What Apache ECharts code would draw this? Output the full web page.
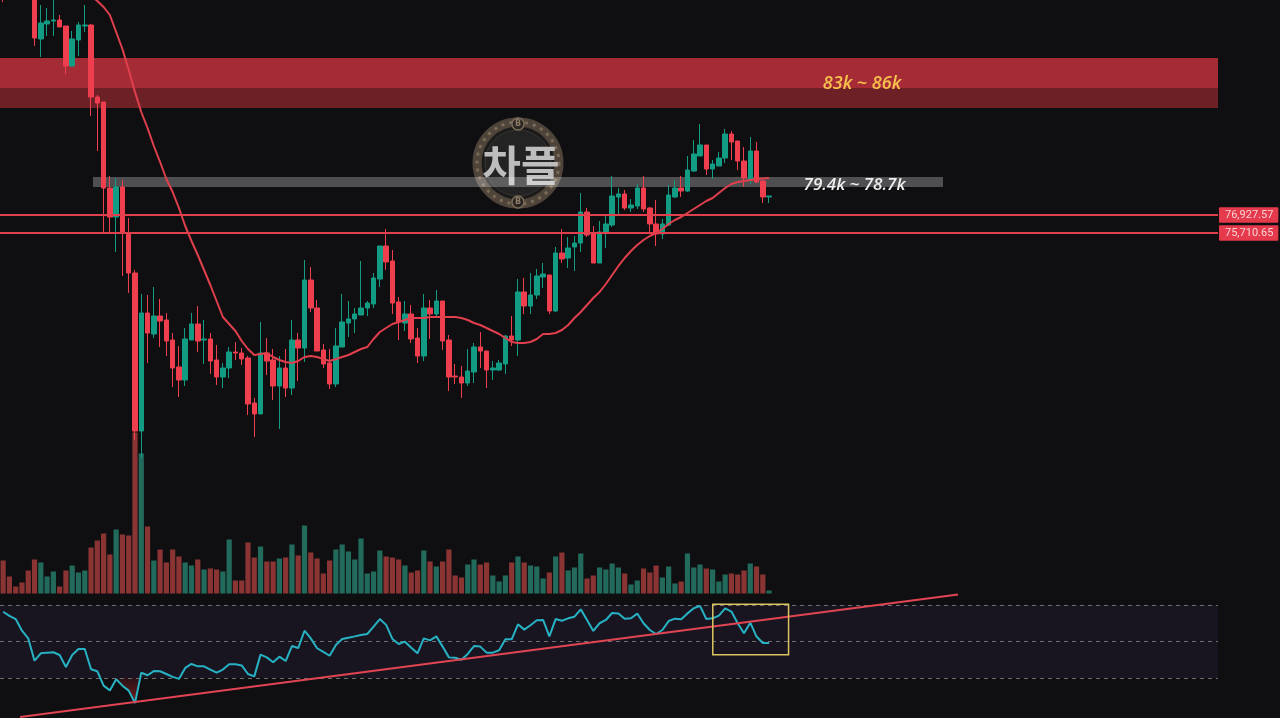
<!DOCTYPE html>
<html>
<head>
<meta charset="utf-8">
<style>html,body{margin:0;padding:0;background:#0f0f11;}#chart{width:1280px;height:718px;}</style>
<script src="https://cdn.jsdelivr.net/npm/echarts@6/dist/echarts.min.js"></script>
</head>
<body>
<div id="chart"></div>
<script>
const barCount = 194;
const categories = Array.from({length: barCount}, (_, i) => String(i + 1));

const candleOpen = [93490,94000,94300,94600,94500,
92138,88826,89840,90042,90110,89704,87000,88758,89704,89772,
84905,84567,78753,76793,78820,75711,73007,62326,70303,68884,
70100,69830,68478,66653,65774,68478,69560,68478,68546,67126,
65977,66585,67667,67599,67261,64219,63476,67599,67126,65368,
66585,65233,68478,67937,72534,70641,67802,66923,65504,68005,
69627,69898,70168,70641,70912,72602,74832,73818,71047,69627,
70236,68613,67396,70641,70236,71114,68478,66044,65977,65571,
66315,68005,67734,66450,66450,66856,68748,68478,71723,70776,
71520,72737,72872,70438,74359,74021,74765,75035,77131,75711,
73683,75711,76252,78145,78348,77401,77536,78753,77401,76320,
75644,76252,78145,78753,78550,79902,80916,81660,80038,80241,
80781,82404,81931,80578,79294,81254,79226,78145];
const candleClose = [92003,93400,93900,94200,92300,
88893,89907,90042,90110,89637,87000,88826,89772,89772,84905,
84499,78753,76793,78820,75711,73007,62326,70303,68951,70100,
69762,68410,66585,65774,68546,69560,68410,68546,67058,65977,
66585,67667,67599,67194,64152,63476,67599,67058,65368,66585,
65233,68478,67937,72534,70641,67734,66856,65504,68072,69695,
69898,70236,70641,70979,72669,74832,73751,70979,69695,70236,
68546,67396,70641,70236,71114,68410,65977,65977,65571,66382,
68005,67734,66450,66585,66923,68748,68478,71723,70776,71520,
72804,72940,70438,74359,73954,74697,75035,77131,75576,73683,
75779,76320,78212,78348,77401,77604,78753,77334,76320,75644,
76320,78280,78753,78550,79970,81052,81660,80038,80376,80781,
82404,81863,80578,79429,81254,79159,78145,78212];
const candleLow = [91327,93200,93700,94000,92100,
88352,87609,89028,89028,89637,86460,86933,87676,89299,83620,
81254,75711,75711,74427,72804,71655,61718,60501,66923,68613,
68005,67396,65301,64625,65368,68478,67667,66856,66180,65436,
65233,65909,67126,66788,63408,61921,63476,66112,64422,62462,
64625,64760,65706,66991,70371,67734,66585,65166,65301,68005,
68681,68951,70168,70100,70641,72061,73210,70236,68478,69086,
68275,66923,67058,68546,70100,67802,65030,65504,64557,65368,
65571,66585,65233,65774,66382,66180,68072,67396,70236,70236,
71250,71993,70236,70371,73683,73345,73142,74427,75441,73683,
73683,74697,76117,76996,77266,77131,77334,77131,75711,74832,
75306,76184,78077,78145,78483,79835,80916,79632,79362,80241,
80443,80646,79970,78820,79024,79091,77739,77739];
const candleHigh = [93828,94200,94500,94700,94900,
92814,91124,90921,91462,90448,89704,89366,89975,91124,89840,
85040,84567,79564,79429,79294,76725,73210,71588,71520,72061,
71250,70303,68951,68072,69289,70303,70776,69830,68951,68140,
66923,68005,68343,67937,67396,64557,69695,68613,67870,67396,
67870,69830,68951,73886,73413,71182,68208,67870,69289,71588,
71114,70641,73818,71114,73007,74832,75982,74562,71385,71114,
70844,69289,71588,71182,71858,71114,68816,66856,66720,67870,
68275,69019,67734,67058,67126,68816,70100,72602,72669,73007,
73278,73683,72872,74765,75982,75441,75508,78415,77401,76184,
76522,76860,79564,78753,78618,78010,79024,79564,77469,77942,
76658,78956,79294,79564,80916,81998,83080,81660,80646,81187,
82742,82607,81931,81525,82201,81863,79294,78212];

const volume = [33,17,7,11,23,34,31,17,22,7,23,28,21,23,46,53,60,39,64,59,58,161,140,67,33,
44,31,44,37,31,28,34,24,25,24,22,54,13,13,51,36,47,32,32,35,36,49,38,68,41,35,20,33,44,49,
42,34,55,20,22,43,37,36,34,28,21,23,43,32,27,32,44,18,16,29,34,29,31,18,12,18,31,37,31,28,
27,15,21,37,41,23,26,40,15,18,26,24,30,26,20,9,13,25,21,28,16,27,10,12,40,26,29,25,24,12,
19,20,19,23,30,27,19,3];

const movingAverage = [null,null,null,null,null,null,null,null,null,null,null,null,null,null,91732,
91394,90989,90448,89299,88150,86730,85243,83891,82809,81593,80511,79362,78483,77401,76184,
75170,74224,73210,72196,71114,70033,69560,69086,68410,67870,67464,67531,67599,67329,67126,
66991,66923,67058,67329,67396,67329,67194,67058,67194,67329,67464,67667,67870,68005,68546,
69019,69289,69560,69695,69830,69965,69965,69965,70033,70033,70033,70033,70033,69965,69830,
69627,69492,69289,69086,68884,68613,68343,68275,68275,68343,68546,68884,68884,68951,69154,
69492,69965,70371,70844,71317,71723,72264,72872,73481,74021,74494,74900,75238,75508,75711,
75982,76320,76590,76793,77063,77334,77604,77874,78077,78415,78753,79024,79159,79226,79294,
79362,79395,79429];

const rsi = [66.3,64.0,62.3,55.9,51.7,39.5,43.5,43.9,44.1,42.6,36.0,42.6,45.9,45.9,34.8,33.7,
25.8,23.2,29.3,25.8,23.1,16.3,32.9,31.5,33.8,33.7,32.2,30.6,29.5,35.5,37.7,36.4,36.4,34.6,
32.9,34.6,37.5,37.5,36.9,32.2,30.9,42.8,41.3,38.6,41.7,39.3,47.5,46.4,55.9,51.7,46.3,44.3,
42.2,48.1,51.4,52.1,52.8,53.6,54.1,58.1,62.3,59.1,51.4,48.6,49.9,46.6,43.5,51.7,50.6,52.8,
47.2,41.3,41.1,40.0,43.2,47.5,47.2,43.9,43.9,45.2,51.2,51.2,59.4,56.5,58.9,61.6,61.8,52.8,
62.3,61.4,62.7,63.6,67.6,61.8,55.8,60.0,61.8,65.6,65.4,62.5,62.7,65.3,60.0,56.3,54.1,56.3,
61.2,62.5,62.2,65.4,68.2,69.5,62.3,62.7,64.2,68.2,66.4,60.0,54.5,60.3,52.7,49.2,49.2];

const supportLevels = [76927.57, 75710.65];
const supportLabels = ['76,927.57', '75,710.65'];
const resistanceUpper = [87541, 85513];
const resistanceLower = [85513, 84161];
const midZone = [79497, 78821];
const zoneLabels = ['83k ~ 86k', '79.4k ~ 78.7k'];
const rsiLevels = [70, 50, 30];
const rsiTrend = [[2.7, 8.63], [152.1, 75.75]];

const C = {
  bg: '#0f0f11', up: '#139c84', down: '#ef3e4e', volUp: '#226b5c', volDown: '#8a3434',
  ma: '#e03f4d', rsi: '#27b2c4', trend: '#e14553', box: '#dcc561'
};

const candles = candleOpen.map((o, i) => [o, candleClose[i], candleLow[i], candleHigh[i]]);
const volumeBars = volume.map((v, i) => ({
  value: v,
  itemStyle: {color: candleClose[i] >= candleOpen[i] ? C.volUp : C.volDown}
}));
const rectItem = (api, x0, x1, y0, y1, style) => {
  const a = api.coord([x0, y0]), b = api.coord([x1, y1]);
  return {type: 'rect', shape: {x: a[0], y: a[1], width: b[0] - a[0], height: b[1] - a[1]}, style};
};

const option = {
  backgroundColor: C.bg,
  animation: false,
  grid: [
    {left: 0, top: 0, width: 1218, height: 595},
    {left: 0, top: 395, width: 1218, height: 198.5},
    {left: 0, top: 590, width: 1218, height: 128}
  ],
  xAxis: [
    {type: 'category', gridIndex: 0, data: categories, show: false},
    {type: 'value', gridIndex: 0, min: -0.5, max: barCount - 0.5, show: false},
    {type: 'category', gridIndex: 1, data: categories, show: false},
    {type: 'category', gridIndex: 2, data: categories, show: false},
    {type: 'value', gridIndex: 2, min: -0.5, max: barCount - 0.5, show: false}
  ],
  yAxis: [
    {type: 'value', gridIndex: 0, min: 51240, max: 91462, show: false, splitLine: {show: false}},
    {type: 'value', gridIndex: 1, min: 0, max: 198.5, show: false, splitLine: {show: false}},
    {type: 'value', gridIndex: 2, min: 8.08, max: 78.22, show: false, splitLine: {show: false}}
  ],
  graphic: [{
    type: 'group', z: 1, silent: true,
    children: [
      {type: 'circle', shape: {cx: 518, cy: 163, r: 41}, style: {fill: '#1c1b1b', stroke: '#4e443a', lineWidth: 9}},
      {type: 'circle', shape: {cx: 518, cy: 163, r: 41}, style: {fill: 'none', stroke: '#7a6b58', lineWidth: 3, lineDash: [3, 5]}},
      {type: 'circle', shape: {cx: 518, cy: 163, r: 33}, style: {fill: '#232323', stroke: '#38342f', lineWidth: 1}},
      {type: 'circle', shape: {cx: 518, cy: 124, r: 6}, style: {fill: '#2a2622', stroke: '#7b6c5a', lineWidth: 1.5}},
      {type: 'circle', shape: {cx: 518, cy: 202, r: 6}, style: {fill: '#2a2622', stroke: '#7b6c5a', lineWidth: 1.5}},
      {type: 'text', style: {x: 518, y: 124, text: 'B', fill: '#8a7a66', font: 'bold 8px "DejaVu Sans"', align: 'center', verticalAlign: 'middle'}},
      {type: 'text', style: {x: 518, y: 202, text: 'B', fill: '#8a7a66', font: 'bold 8px "DejaVu Sans"', align: 'center', verticalAlign: 'middle'}},
      {type: 'text', style: {x: 521, y: 165, text: '차플', fill: '#bdbdbd', font: 'bold 42px "Noto Sans CJK KR"', align: 'center', verticalAlign: 'middle'}}
    ]
  }],
  series: [
    {
      type: 'custom', name: 'Zones', xAxisIndex: 1, yAxisIndex: 0, z: 2, silent: true, clip: true,
      encode: {x: [0, 1], y: [2, 3]},
      data: [
        [-0.5, barCount - 0.5, resistanceUpper[0], resistanceUpper[1], '#a52b36'],
        [-0.5, barCount - 0.5, resistanceLower[0], resistanceLower[1], '#6e2027'],
        [14.31, 149.7, midZone[0], midZone[1], 'rgba(255,255,255,0.27)']
      ],
      renderItem: (p, api) => rectItem(api, api.value(0), api.value(1), api.value(2), api.value(3), {fill: api.value(4)})
    },
    {
      type: 'bar', name: 'Volume', xAxisIndex: 2, yAxisIndex: 1, z: 3, barWidth: 5.2, silent: true,
      data: volumeBars
    },
    {
      type: 'candlestick', name: 'Price', xAxisIndex: 0, yAxisIndex: 0, z: 4, barWidth: 5, silent: true,
      data: candles,
      itemStyle: {color: C.up, color0: C.down, borderColor: C.up, borderColor0: C.down, borderWidth: 1},
      markLine: {
        silent: true, symbol: 'none', animation: false,
        lineStyle: {color: C.ma, width: 1.8, type: 'solid'},
        label: {
          position: 'end', distance: 1, color: '#f8d3d6', backgroundColor: '#e53a4b',
          fontFamily: 'Roboto', fontSize: 11, padding: [2.5, 5, 2, 6], borderRadius: 1
        },
        data: supportLevels.map((v, i) => ({yAxis: v, label: {formatter: supportLabels[i]}}))
      }
    },
    {
      type: 'line', name: 'MA', xAxisIndex: 0, yAxisIndex: 0, z: 5, silent: true,
      data: movingAverage, showSymbol: false, symbol: 'none', smooth: false,
      lineStyle: {color: C.ma, width: 2}
    },
    {
      type: 'custom', name: 'Zone labels', xAxisIndex: 1, yAxisIndex: 0, z: 6, silent: true,
      encode: {x: 0, y: 1},
      data: [[136.8, 85784], [135.6, 78956]],
      renderItem: (p, api) => {
        const c = api.coord([api.value(0), api.value(1)]);
        return {type: 'text', style: {
          x: c[0], y: c[1], text: zoneLabels[p.dataIndex], fill: p.dataIndex ? '#efefef' : '#f6c24c',
          font: (p.dataIndex ? 'italic 600 17px' : 'italic 600 18px') + ' "Open Sans"', align: 'center', verticalAlign: 'middle'
        }};
      }
    },
    {
      type: 'custom', name: 'RSI band', xAxisIndex: 4, yAxisIndex: 2, z: 2, silent: true,
      encode: {x: [0, 1], y: [2, 3]},
      data: [[-0.5, barCount - 0.5, rsiLevels[0], rsiLevels[2]]],
      renderItem: (p, api) => rectItem(api, api.value(0), api.value(1), api.value(2), api.value(3), {fill: '#191520'})
    },
    {
      type: 'custom', name: 'RSI oversold', xAxisIndex: 4, yAxisIndex: 2, z: 3, silent: true,
      encode: {x: 0, y: 1},
      data: [[18, rsiLevels[2]], [19, rsi[19]], [20, rsi[20]], [21, rsi[21]], [21.85, rsiLevels[2]]],
      renderItem: (p, api) => {
        if (p.dataIndex !== 0) return null;
        const pts = [[18, rsiLevels[2]], [19, rsi[19]], [20, rsi[20]], [21, rsi[21]], [21.85, rsiLevels[2]]].map(q => api.coord(q));
        return {type: 'polygon', shape: {points: pts}, style: {
          fill: {type: 'linear', x: 0, y: 0, x2: 0, y2: 1, colorStops: [
            {offset: 0, color: 'rgba(60,20,25,0.6)'}, {offset: 1, color: 'rgba(130,30,30,0.95)'}]}
        }};
      }
    },
    {
      type: 'line', name: 'RSI', xAxisIndex: 3, yAxisIndex: 2, z: 5, silent: true,
      data: rsi, showSymbol: false, symbol: 'none',
      lineStyle: {color: C.rsi, width: 2},
      markLine: {
        silent: true, symbol: 'none', animation: false, label: {show: false},
        lineStyle: {color: '#6e6e6e', width: 1, type: [4, 4]},
        data: rsiLevels.map(v => ({yAxis: v}))
      }
    },
    {
      type: 'line', name: 'RSI trend', xAxisIndex: 4, yAxisIndex: 2, z: 6, silent: true,
      data: rsiTrend, showSymbol: false, symbol: 'none',
      lineStyle: {color: C.trend, width: 2}
    },
    {
      type: 'custom', name: 'RSI box', xAxisIndex: 4, yAxisIndex: 2, z: 7, silent: true,
      encode: {x: [0, 1], y: [2, 3]},
      data: [[113.03, 125.1, 70.4, 42.8]],
      renderItem: (p, api) => rectItem(api, api.value(0), api.value(1), api.value(2), api.value(3), {fill: 'none', stroke: C.box, lineWidth: 1.5})
    }
  ]
};
echarts.init(document.getElementById('chart'), null, {renderer: 'canvas'}).setOption(option);
</script>
</body>
</html>
